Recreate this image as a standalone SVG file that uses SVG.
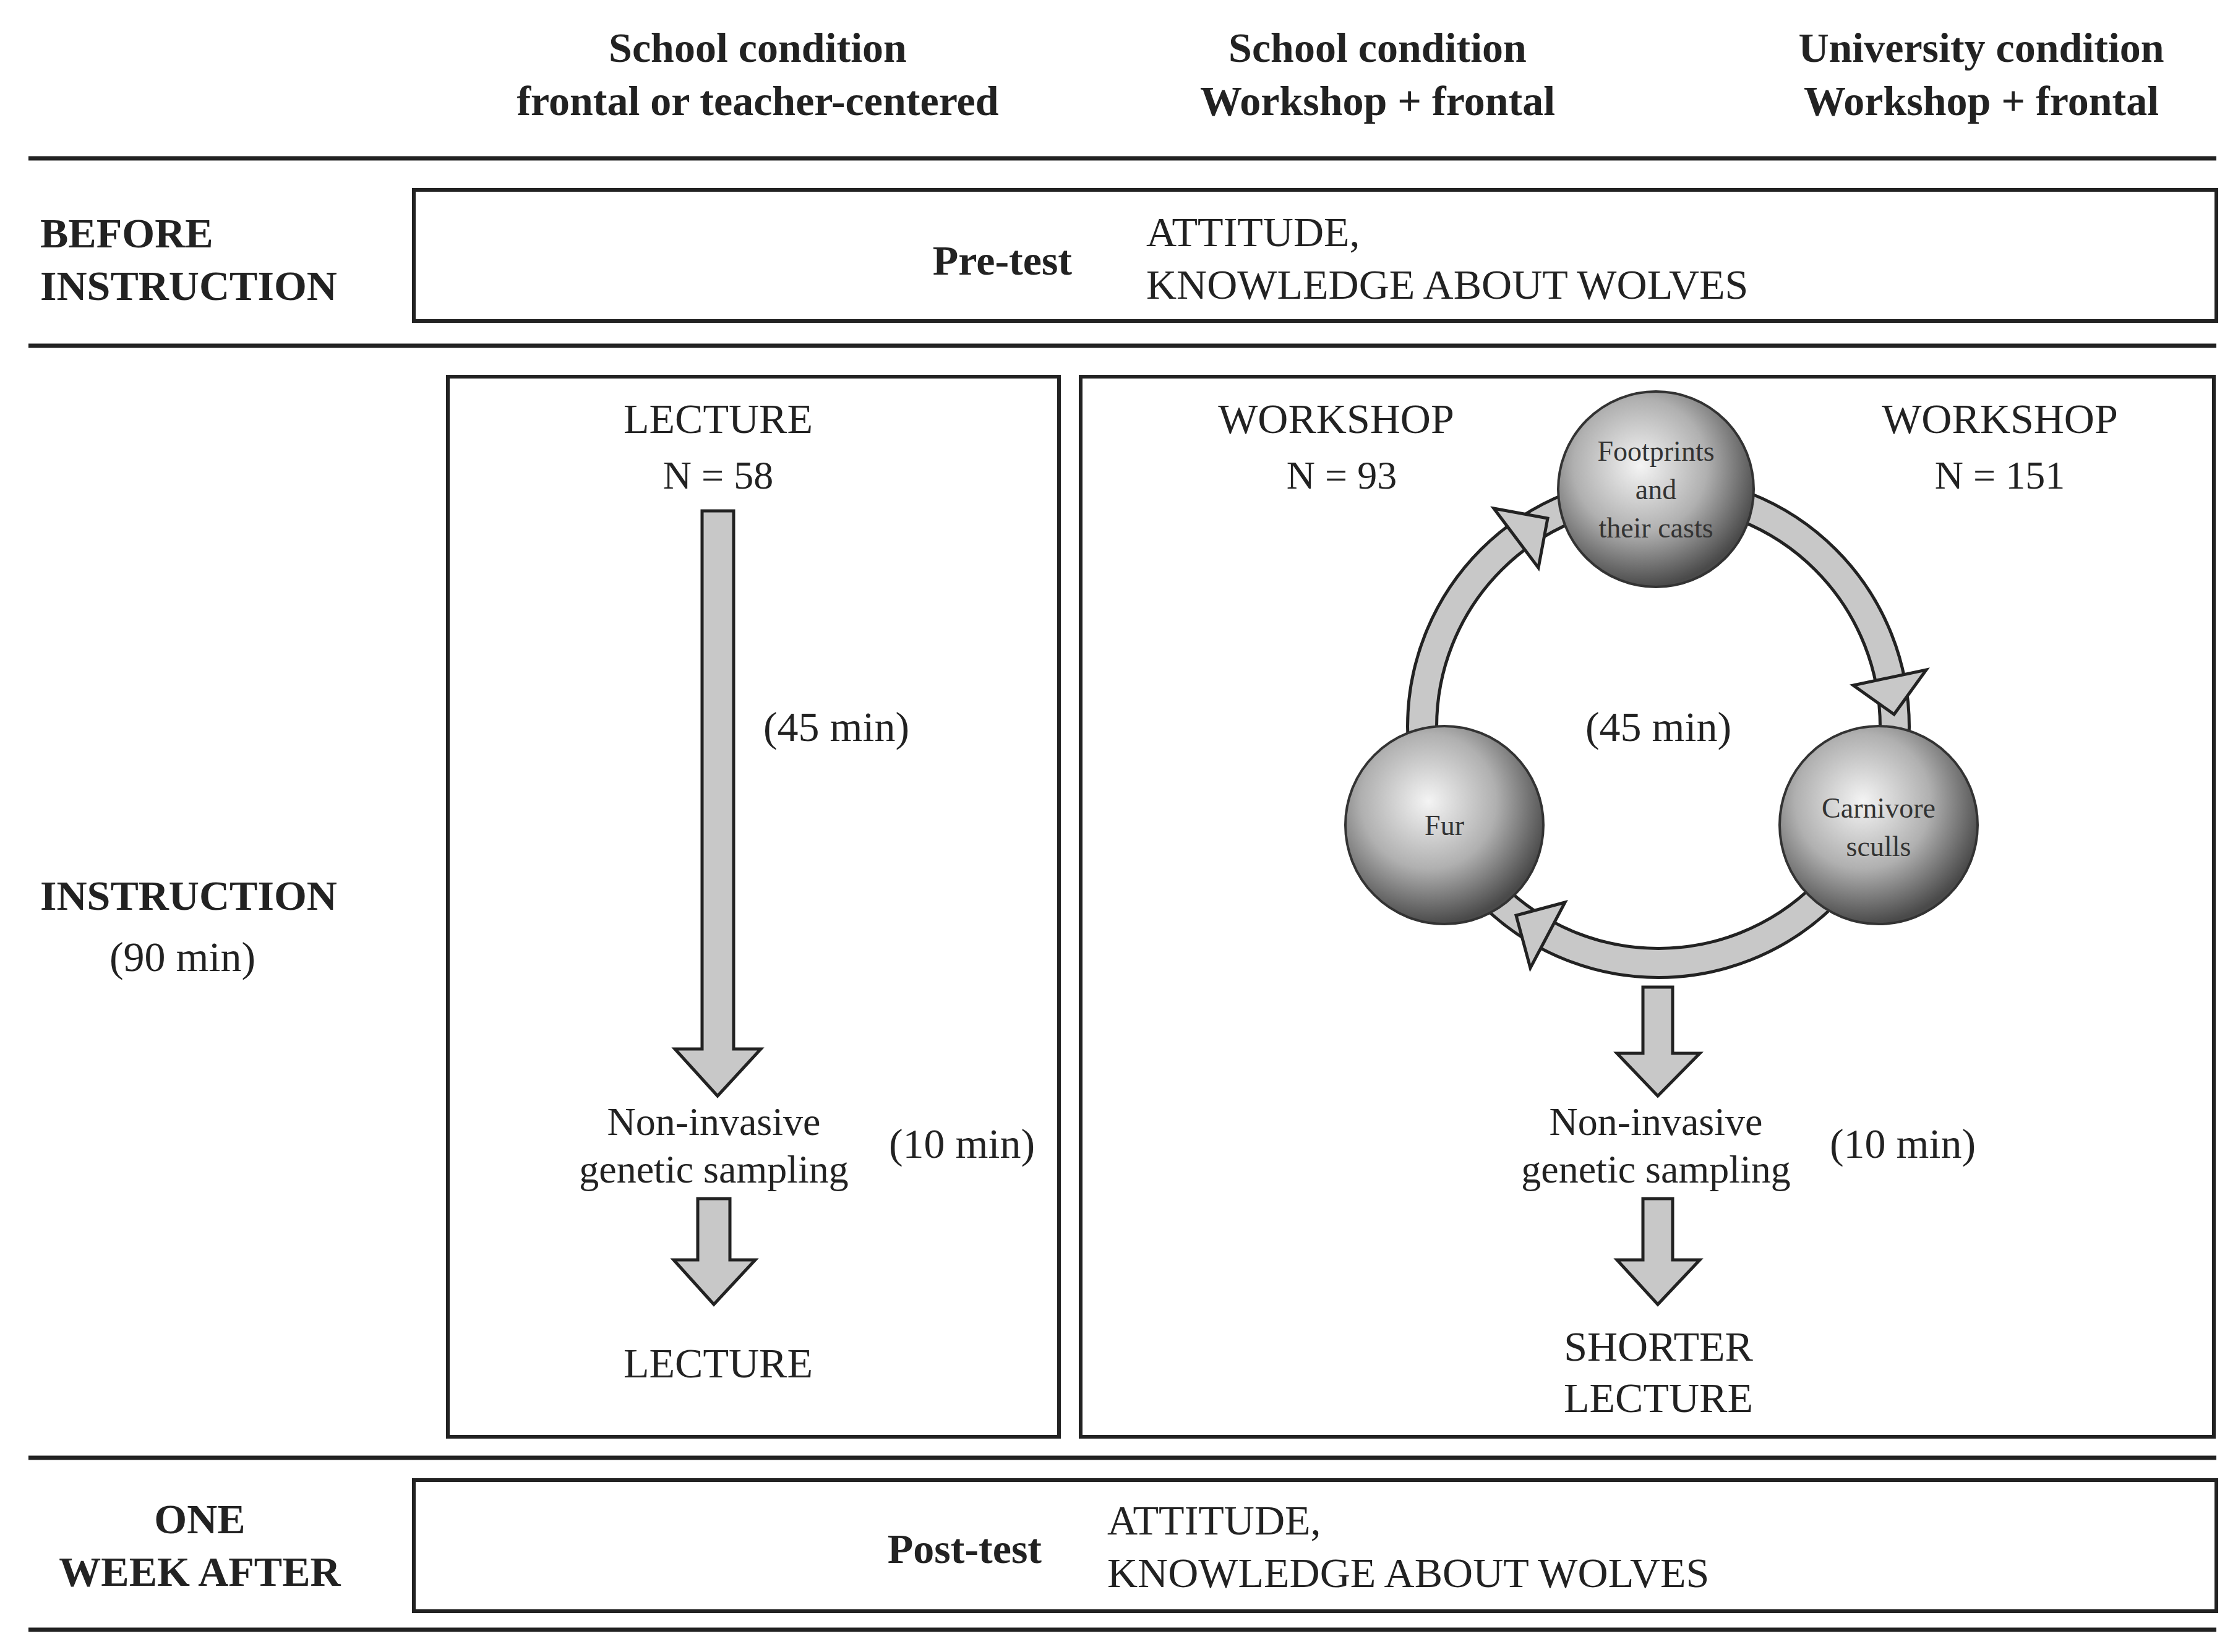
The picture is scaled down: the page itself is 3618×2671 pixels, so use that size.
<svg xmlns="http://www.w3.org/2000/svg" width="3618" height="2671" viewBox="0 0 3618 2671">
<style>
text{font-family:"Liberation Serif","DejaVu Serif",serif;fill:#222}
.h{font-weight:bold;font-size:68px;text-anchor:middle}
.hl{font-weight:bold;font-size:68px}
.t{font-size:68px}
.m{text-anchor:middle}
.s{font-size:64px}
.c{font-size:46px;text-anchor:middle;fill:#333}
.box{fill:#fff;stroke:#222;stroke-width:6}
.rule{stroke:#222;stroke-width:7}
.arr{fill:#c8c8c8;stroke:#222;stroke-width:5;stroke-linejoin:miter}
</style>
<defs>
<radialGradient id="g" cx="0.42" cy="0.38" r="0.62">
<stop offset="0" stop-color="#f4f4f4"/><stop offset="0.55" stop-color="#b0b0b0"/><stop offset="1" stop-color="#4a4a4a"/>
</radialGradient>
</defs>
<rect width="3618" height="2671" fill="#fff"/>
<g id="headers">
<text class="h" x="1225" y="100">School condition</text>
<text class="h" x="1225" y="186">frontal or teacher-centered</text>
<text class="h" x="2227" y="100">School condition</text>
<text class="h" x="2227" y="186">Workshop + frontal</text>
<text class="h" x="3203" y="100">University condition</text>
<text class="h" x="3203" y="186">Workshop + frontal</text>
</g>
<g id="rules">
<line class="rule" x1="46" y1="256" x2="3583" y2="256"/>
<line class="rule" x1="46" y1="559" x2="3583" y2="559"/>
<line class="rule" x1="46" y1="2357" x2="3583" y2="2357"/>
<line class="rule" x1="46" y1="2635" x2="3583" y2="2635"/>
</g>
<g id="rowlabels">
<text class="hl" x="65" y="400">BEFORE</text>
<text class="hl" x="65" y="485">INSTRUCTION</text>
<text class="hl" x="65" y="1471">INSTRUCTION</text>
<text class="t m" x="295" y="1570">(90 min)</text>
<text class="h" x="323" y="2479">ONE</text>
<text class="h" x="323" y="2564">WEEK AFTER</text>
</g>
<g id="pretest">
<rect class="box" x="669" y="307" width="2914" height="212"/>
<text class="hl" x="1733" y="444" text-anchor="end">Pre-test</text>
<text class="t" x="1853" y="398">ATTITUDE,</text>
<text class="t" x="1853" y="483">KNOWLEDGE ABOUT WOLVES</text>
</g>
<g id="lecturebox">
<rect class="box" x="724" y="609" width="988" height="1714"/>
<text class="t m" x="1161" y="700">LECTURE</text>
<text class="s m" x="1161" y="790">N = 58</text>
<polygon class="arr" points="1135,826 1186,826 1186,1696 1230,1696 1160,1772 1091,1696 1135,1696"/>
<text class="t m" x="1352" y="1198">(45 min)</text>
<text class="s m" x="1154" y="1835">Non-invasive</text>
<text class="s m" x="1154" y="1912">genetic sampling</text>
<text class="t m" x="1555" y="1872">(10 min)</text>
<polygon class="arr" points="1128,1938 1180,1938 1180,2037 1221,2037 1154,2109 1089,2037 1128,2037"/>
<text class="t m" x="1161" y="2227">LECTURE</text>
</g>
<g id="workshopbox">
<rect class="box" x="1747" y="609" width="1832" height="1714"/>
<text class="t m" x="2160" y="700">WORKSHOP</text>
<text class="s m" x="2169" y="790">N = 93</text>
<text class="t m" x="3233" y="700">WORKSHOP</text>
<text class="s m" x="3233" y="790">N = 151</text>
<text class="t m" x="2681" y="1198">(45 min)</text>
</g>
<g id="connectors">
<circle cx="2681" cy="1175" r="382" fill="none" stroke="#222" stroke-width="52"/>
<circle cx="2681" cy="1175" r="382" fill="none" stroke="#c8c8c8" stroke-width="42"/>
<polygon class="arr" points="3114,1083 3062,1155 2996,1108"/>
<polygon class="arr" points="2415,822 2502,838 2487,918"/>
<polygon class="arr" points="2474,1565 2451,1480 2530,1459"/>
<polygon class="arr" points="2656,1596 2704,1596 2704,1703 2748,1703 2680,1772 2614,1703 2656,1703"/>
<polygon class="arr" points="2656,1938 2704,1938 2704,2037 2748,2037 2680,2109 2614,2037 2656,2037"/>
</g>
<g id="footprints">
<circle cx="2677" cy="791" r="158" fill="url(#g)" stroke="#333" stroke-width="4"/>
<text class="c" x="2677" y="745">Footprints</text>
<text class="c" x="2677" y="807">and</text>
<text class="c" x="2677" y="869">their casts</text>
</g>
<g id="fur">
<circle cx="2335" cy="1334" r="160" fill="url(#g)" stroke="#333" stroke-width="4"/>
<text class="c" x="2335" y="1350">Fur</text>
</g>
<g id="carnivore">
<circle cx="3037" cy="1334" r="160" fill="url(#g)" stroke="#333" stroke-width="4"/>
<text class="c" x="3037" y="1322">Carnivore</text>
<text class="c" x="3037" y="1384">sculls</text>
</g>
<g id="workshoptext">
<text class="s m" x="2677" y="1835">Non-invasive</text>
<text class="s m" x="2677" y="1912">genetic sampling</text>
<text class="t m" x="3076" y="1872">(10 min)</text>
<text class="t m" x="2681" y="2200">SHORTER</text>
<text class="t m" x="2681" y="2283">LECTURE</text>
</g>
<g id="posttest">
<rect class="box" x="669" y="2393" width="2914" height="212"/>
<text class="hl" x="1684" y="2527" text-anchor="end">Post-test</text>
<text class="t" x="1790" y="2481">ATTITUDE,</text>
<text class="t" x="1790" y="2566">KNOWLEDGE ABOUT WOLVES</text>
</g>
</svg>
